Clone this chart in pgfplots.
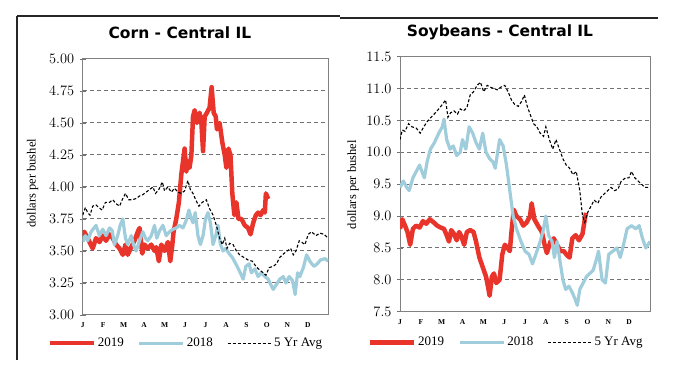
\documentclass[border=0pt]{standalone}
\usepackage{pgfplots}
\pgfplotsset{compat=1.18}
\usepackage{fontspec}
\setmainfont{Liberation Serif}
\newfontfamily\titlefont{DejaVu Sans}
\definecolor{cred}{HTML}{E8342A}
\definecolor{cblue}{HTML}{A0CDDC}
\definecolor{cgray}{HTML}{808080}
\pgfplotsset{
  panel/.style={
    scale only axis, anchor=south west,
    xmin=0, xmax=12, xtick={0,...,11},
    xticklabels={J,F,M,A,M,J,J,A,S,O,N,D},
    x tick label style={font=\fontsize{7.5}{8}\selectfont\bfseries, yshift=-1pt},
    y tick label style={font=\fontsize{13.5}{14}\selectfont, xshift=-2pt},
    axis line style={cgray, line width=1pt},
    ylabel={dollars per bushel},
    ylabel style={font=\fontsize{12.5}{14}\selectfont, anchor=center},
    title style={font=\titlefont\bfseries\fontsize{15.5}{17}\selectfont, anchor=center, yshift=-6pt},
    legend columns=3,
    legend style={draw=none, fill=none, inner sep=0pt, anchor=west,
      font=\fontsize{13}{14}\selectfont,
      /tikz/every even column/.append style={column sep=12pt}},
    legend image code/.code={\draw[#1] (0pt,0pt) -- (44pt,0pt);},
    ymajorgrids=true,
    grid style={draw=black!55, line width=1pt, dash pattern=on 4pt off 3pt},
    tick align=center, major tick length=6pt,
    ytick pos=left, xtick pos=bottom,
    tick style={draw=black!55, line width=0.8pt},
    xtick style={draw=none},
  },
  r19/.style={cred, line width=4.5pt, line join=round},
  r18/.style={cblue, line width=3.2pt, line join=round},
  avg/.style={black, line width=1.1pt, dash pattern=on 3pt off 2pt},
}
\begin{document}
\begin{tikzpicture}
\path (0pt,0pt) rectangle (680pt,387pt);
\draw[black!85, line width=1.6pt] (17pt,371pt) -- (340pt,371pt);
\draw[black!85, line width=1.4pt] (17pt,371pt) -- (17pt,27pt);
\draw[black!85, line width=1.6pt] (340pt,369pt) -- (658pt,369pt);

\begin{axis}[panel, at={(82.7pt,72pt)}, width=245.6pt, height=256pt,
  ymin=3, ymax=5, ytick={3,3.25,...,5},
  yticklabel style={/pgf/number format/.cd, fixed, fixed zerofill, precision=2},
  title={Corn - Central IL}, title style={at={(0.396,1.103)}},
  ylabel style={at={(-0.204,0.514)}},
  legend style={at={(-0.145,-0.11)}}]
\addplot[r19] coordinates {
(0,3.62)(0.08,3.65)(0.24,3.60)(0.49,3.52)(0.65,3.60)(0.82,3.57)(0.98,3.62)(1.14,3.58)
(1.31,3.63)(1.47,3.60)(1.63,3.55)(1.80,3.52)(1.96,3.47)(2.09,3.55)(2.20,3.47)(2.37,3.53)
(2.53,3.58)(2.69,3.65)(2.78,3.68)(2.91,3.48)(3.02,3.55)(3.18,3.52)(3.35,3.55)(3.51,3.50)
(3.59,3.53)(3.72,3.42)(3.84,3.55)(4.00,3.50)(4.16,3.57)(4.28,3.42)(4.38,3.55)(4.44,3.65)
(4.57,3.75)(4.70,3.88)(4.82,4.10)(4.90,4.20)(4.98,4.30)(5.06,4.12)(5.14,4.20)(5.22,4.15)
(5.31,4.25)(5.39,4.55)(5.47,4.60)(5.58,4.50)(5.71,4.58)(5.80,4.50)(5.88,4.28)(5.96,4.55)
(6.07,4.58)(6.20,4.62)(6.30,4.78)(6.40,4.58)(6.50,4.55)(6.56,4.45)(6.69,4.50)(6.82,4.35)
(6.94,4.25)(7.02,4.15)(7.12,4.30)(7.22,4.25)(7.31,3.95)(7.41,3.78)(7.51,3.88)(7.61,3.75)
(7.76,3.75)(7.92,3.70)(8.08,3.68)(8.20,3.63)(8.33,3.72)(8.46,3.78)(8.57,3.80)(8.69,3.78)
(8.82,3.82)(8.90,3.80)(8.95,3.95)(9.03,3.92)(9.08,3.93)};
\addlegendentry{2019}
\addplot[r18] coordinates {
(0,3.57)(0.13,3.62)(0.24,3.58)(0.41,3.65)(0.65,3.70)(0.82,3.62)(0.98,3.67)(1.14,3.62)
(1.31,3.68)(1.44,3.66)(1.55,3.55)(1.71,3.62)(1.83,3.70)(1.96,3.75)(2.09,3.60)(2.20,3.55)
(2.37,3.62)(2.48,3.55)(2.61,3.50)(2.78,3.58)(2.94,3.65)(3.07,3.60)(3.18,3.58)(3.35,3.62)
(3.51,3.70)(3.62,3.60)(3.76,3.66)(3.92,3.70)(4.08,3.62)(4.24,3.65)(4.41,3.67)(4.57,3.68)
(4.73,3.70)(4.90,3.68)(5.06,3.74)(5.19,3.82)(5.31,3.75)(5.39,3.72)(5.50,3.80)(5.63,3.62)
(5.75,3.55)(5.88,3.62)(6.00,3.75)(6.12,3.80)(6.24,3.72)(6.37,3.55)(6.50,3.62)(6.61,3.70)
(6.73,3.55)(6.86,3.50)(6.99,3.52)(7.15,3.48)(7.31,3.45)(7.48,3.40)(7.64,3.35)(7.84,3.28)
(7.97,3.38)(8.13,3.40)(8.24,3.33)(8.41,3.36)(8.57,3.30)(8.73,3.33)(8.90,3.30)(9.06,3.28)
(9.18,3.24)(9.31,3.20)(9.47,3.24)(9.63,3.28)(9.80,3.30)(9.93,3.25)(10.09,3.30)(10.25,3.27)
(10.38,3.16)(10.50,3.33)(10.61,3.30)(10.78,3.37)(10.94,3.47)(11.10,3.42)(11.30,3.38)
(11.46,3.40)(11.62,3.43)(11.84,3.44)(12,3.42)};
\addlegendentry{2018}
\addplot[avg] coordinates {
(0,3.78)(0.13,3.84)(0.24,3.80)(0.36,3.78)(0.49,3.85)(0.65,3.86)(0.78,3.84)(0.95,3.82)
(1.11,3.88)(1.31,3.88)(1.47,3.90)(1.63,3.87)(1.80,3.85)(1.93,3.90)(2.09,3.95)(2.25,3.90)
(2.42,3.90)(2.61,3.91)(2.78,3.93)(2.94,3.94)(3.10,3.96)(3.27,3.98)(3.43,4.00)(3.56,3.95)
(3.72,3.98)(3.89,4.04)(4.00,3.97)(4.16,4.00)(4.33,3.96)(4.49,3.99)(4.65,3.96)(4.82,3.95)
(4.98,3.97)(5.14,4.05)(5.26,3.98)(5.39,3.95)(5.52,3.90)(5.68,3.85)(5.84,3.88)(6.04,3.90)
(6.20,3.83)(6.37,3.78)(6.53,3.70)(6.69,3.60)(6.82,3.55)(6.94,3.60)(7.05,3.52)(7.18,3.56)
(7.35,3.55)(7.51,3.50)(7.67,3.47)(7.87,3.45)(8.08,3.43)(8.29,3.42)(8.46,3.38)(8.65,3.35)
(8.82,3.33)(8.95,3.31)(9.11,3.37)(9.31,3.38)(9.47,3.40)(9.63,3.45)(9.83,3.48)(9.99,3.50)
(10.16,3.52)(10.29,3.47)(10.42,3.50)(10.58,3.58)(10.69,3.57)(10.86,3.55)(11.02,3.63)
(11.18,3.65)(11.40,3.62)(11.59,3.64)(11.79,3.63)(12,3.60)};
\addlegendentry{5 Yr Avg}
\end{axis}

\begin{axis}[panel, at={(400pt,75.3pt)}, width=250pt, height=255pt,
  ymin=7.5, ymax=11.5, ytick={7.5,8,...,11.5},
  yticklabel style={/pgf/number format/.cd, fixed, fixed zerofill, precision=1},
  title={Soybeans - Central IL}, title style={at={(0.4,1.095)}},
  ylabel style={at={(-0.188,0.498)}},
  legend style={at={(-0.13,-0.12)}}]
\addplot[r19] coordinates {
(0,8.80)(0.11,8.95)(0.24,8.85)(0.36,8.75)(0.49,8.55)(0.62,8.80)(0.78,8.85)(0.94,8.82)
(1.10,8.92)(1.26,8.88)(1.43,8.95)(1.62,8.90)(1.78,8.85)(1.95,8.82)(2.11,8.80)(2.24,8.70)
(2.35,8.60)(2.46,8.78)(2.59,8.72)(2.72,8.62)(2.84,8.75)(2.95,8.68)(3.08,8.55)(3.21,8.75)
(3.37,8.78)(3.53,8.75)(3.65,8.60)(3.81,8.35)(3.97,8.20)(4.13,8.05)(4.22,7.90)(4.30,7.75)
(4.41,8.05)(4.51,8.10)(4.62,7.95)(4.78,8.00)(4.91,8.40)(5.03,8.55)(5.16,8.50)(5.27,8.45)
(5.35,8.75)(5.46,9.10)(5.59,9.00)(5.76,8.95)(5.92,8.85)(6.08,8.90)(6.24,9.00)(6.32,9.20)
(6.45,8.95)(6.62,8.85)(6.81,8.75)(6.94,8.55)(7.05,8.42)(7.22,8.60)(7.38,8.65)(7.54,8.55)
(7.70,8.45)(7.86,8.45)(8.03,8.38)(8.14,8.35)(8.27,8.65)(8.43,8.70)(8.59,8.62)(8.76,8.72)
(8.87,8.95)(8.93,9.05)};
\addlegendentry{2019}
\addplot[r18] coordinates {
(0,9.45)(0.16,9.55)(0.32,9.45)(0.44,9.40)(0.62,9.60)(0.78,9.70)(0.94,9.80)(1.05,9.70)
(1.17,9.60)(1.30,9.85)(1.46,10.05)(1.65,10.15)(1.86,10.30)(2.03,10.40)(2.11,10.52)
(2.24,10.20)(2.40,10.05)(2.56,10.10)(2.72,9.95)(2.89,10.00)(3.00,10.20)(3.16,10.05)
(3.32,10.40)(3.49,10.30)(3.65,10.15)(3.81,10.05)(3.97,10.30)(4.13,10.00)(4.30,9.90)
(4.46,9.85)(4.57,9.75)(4.78,10.20)(4.95,10.10)(5.11,9.80)(5.27,9.40)(5.43,9.00)(5.59,8.80)
(5.81,8.60)(6.00,8.45)(6.19,8.40)(6.36,8.25)(6.52,8.40)(6.73,8.60)(6.89,8.80)(7.00,9.00)
(7.13,8.70)(7.30,8.60)(7.41,8.35)(7.54,8.60)(7.70,8.25)(7.82,8.00)(7.95,7.85)(8.11,7.90)
(8.27,7.80)(8.40,7.70)(8.51,7.60)(8.63,7.85)(8.79,7.95)(8.95,8.05)(9.11,8.10)(9.27,8.15)
(9.41,8.30)(9.53,8.45)(9.70,8.00)(9.86,7.95)(10.02,8.40)(10.22,8.45)(10.41,8.50)
(10.57,8.35)(10.73,8.55)(10.90,8.80)(11.11,8.85)(11.32,8.80)(11.48,8.85)(11.64,8.65)
(11.80,8.50)(12,8.60)};
\addlegendentry{2018}
\addplot[avg] coordinates {
(0,10.20)(0.11,10.35)(0.24,10.33)(0.41,10.45)(0.57,10.40)(0.78,10.38)(0.97,10.30)
(1.14,10.40)(1.30,10.48)(1.49,10.55)(1.70,10.62)(1.86,10.68)(2.03,10.75)(2.19,10.82)
(2.30,10.55)(2.43,10.62)(2.59,10.65)(2.76,10.60)(2.89,10.68)(3.05,10.65)(3.21,10.70)
(3.37,10.90)(3.53,10.95)(3.70,11.05)(3.86,11.10)(4.02,10.95)(4.18,11.05)(4.35,11.02)
(4.51,11.00)(4.67,10.98)(4.83,11.02)(5.03,11.05)(5.19,10.95)(5.35,10.82)(5.51,10.75)
(5.68,10.72)(5.84,10.80)(5.97,10.90)(6.08,10.75)(6.24,10.60)(6.41,10.45)(6.57,10.40)
(6.73,10.30)(6.89,10.25)(7.00,10.40)(7.17,10.20)(7.33,10.05)(7.49,10.20)(7.65,10.05)
(7.82,9.90)(7.98,9.80)(8.14,9.75)(8.30,9.65)(8.46,9.70)(8.63,9.40)(8.76,9.00)(8.87,8.90)
(9.00,9.05)(9.16,9.15)(9.32,9.25)(9.49,9.20)(9.65,9.30)(9.81,9.35)(9.97,9.40)(10.13,9.45)
(10.30,9.40)(10.46,9.42)(10.62,9.55)(10.83,9.60)(10.99,9.60)(11.11,9.70)(11.27,9.60)
(11.43,9.55)(11.59,9.50)(11.76,9.45)(12,9.45)};
\addlegendentry{5 Yr Avg}
\end{axis}
\end{tikzpicture}
\end{document}
